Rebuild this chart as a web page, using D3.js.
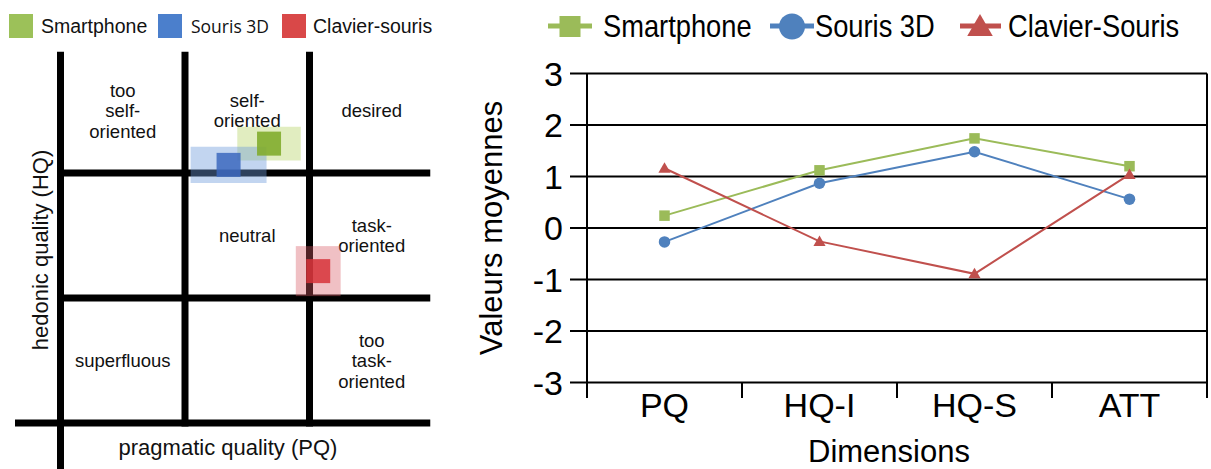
<!DOCTYPE html>
<html>
<head>
<meta charset="utf-8">
<script src="https://cdn.jsdelivr.net/npm/d3@7"></script>
<style>
  html, body { margin: 0; padding: 0; background: #fff; }
  svg { display: block; font-family: "Liberation Sans", Arial, Helvetica, sans-serif; }
</style>
</head>
<body>
<svg id="chart" width="1211" height="469"></svg>
<script>
// ---------- Data: right line chart ----------
const categories = ["PQ", "HQ-I", "HQ-S", "ATT"];
const seriesNames = ["Smartphone", "Souris 3D", "Clavier-Souris"];
const smartphone = [0.24, 1.12, 1.74, 1.20];
const souris3D = [-0.27, 0.87, 1.48, 0.56];
const clavierSouris = [1.16, -0.26, -0.89, 1.04];
const yTicks = [-3, -2, -1, 0, 1, 2, 3];

// ---------- Data: left portfolio ----------
const portfolioNames = ["Smartphone", "Souris 3D", "Clavier-souris"];
const portfolioPQ = [0.35, -0.30, 1.14];
const portfolioHQ = [1.47, 1.13, -0.57];
const confPQ = [0.51, 0.61, 0.36];
const confHQ = [0.27, 0.29, 0.40];
const gridPQ = [-3, -1, 1];
const gridHQ = [-3, -1, 1];
const cellLabels = [
  { pq: -2, hq: 2, lines: ["too", "self-", "oriented"] },
  { pq: 0, hq: 2, lines: ["self-", "oriented"] },
  { pq: 2, hq: 2, lines: ["desired"] },
  { pq: 0, hq: 0, lines: ["neutral"] },
  { pq: 2, hq: 0, lines: ["task-", "oriented"] },
  { pq: -2, hq: -2, lines: ["superfluous"] },
  { pq: 2, hq: -2, lines: ["too", "task-", "oriented"] }
];

const svg = d3.select("#chart");

// ================= LEFT: portfolio =================
const L = svg.append("g");
const px = d3.scaleLinear().domain([-3, 3]).range([60.5, 434]);
const py = d3.scaleLinear().domain([-3, 3]).range([423, 48]);
const lw = 7;

// grid lines
gridPQ.forEach((v, i) => {
  L.append("line")
    .attr("x1", px(v)).attr("x2", px(v))
    .attr("y1", py(2.94)).attr("y2", i === 0 ? 469 : py(-3) + lw / 2)
    .attr("stroke", "#000").attr("stroke-width", lw);
});
gridHQ.forEach((v, i) => {
  L.append("line")
    .attr("x1", i === 0 ? 15 : px(-3) - lw / 2).attr("x2", px(2.94))
    .attr("y1", py(v)).attr("y2", py(v))
    .attr("stroke", "#000").attr("stroke-width", lw);
});

// cell labels
cellLabels.forEach(c => {
  const n = c.lines.length, lh = 20.5;
  const t = L.append("text")
    .attr("x", px(c.pq)).attr("text-anchor", "middle")
    .attr("font-size", 18.5).attr("fill", "#111");
  c.lines.forEach((s, k) => {
    t.append("tspan")
      .attr("x", px(c.pq))
      .attr("y", py(c.hq) + (k - (n - 1) / 2) * lh + 6.5)
      .text(s);
  });
});

// axis titles
L.append("text").attr("x", 228).attr("y", 455).attr("text-anchor", "middle")
  .attr("font-size", 22).attr("fill", "#111").text("pragmatic quality (PQ)");
L.append("text").attr("transform", "translate(48,250) rotate(-90)")
  .attr("text-anchor", "middle").attr("font-size", 22).attr("fill", "#111")
  .text("hedonic quality (HQ)");

// confidence rectangles and mean squares
const outerCols = ["rgba(176,208,90,0.38)", "rgba(110,155,220,0.42)", "rgba(215,90,100,0.38)"];
const innerCols = ["rgba(130,172,45,0.9)", "rgba(60,105,190,0.85)", "rgba(215,50,58,0.85)"];
portfolioNames.forEach((name, i) => {
  L.append("rect")
    .attr("x", px(portfolioPQ[i] - confPQ[i]))
    .attr("y", py(portfolioHQ[i] + confHQ[i]))
    .attr("width", px(portfolioPQ[i] + confPQ[i]) - px(portfolioPQ[i] - confPQ[i]))
    .attr("height", py(portfolioHQ[i] - confHQ[i]) - py(portfolioHQ[i] + confHQ[i]))
    .attr("fill", outerCols[i]);
});
portfolioNames.forEach((name, i) => {
  L.append("rect")
    .attr("x", px(portfolioPQ[i]) - 12).attr("y", py(portfolioHQ[i]) - 12)
    .attr("width", 24).attr("height", 24)
    .attr("fill", innerCols[i]);
});

// left legend
const legL = [
  { x: 9, tx: 41, col: "#9cc159", font: "Liberation Sans, Arial, sans-serif", fs: 19.5 },
  { x: 158, tx: 191, col: "#4b7fcc", font: "Open Sans, sans-serif", fs: 17.5 },
  { x: 282, tx: 313, col: "#d94848", font: "Liberation Sans, Arial, sans-serif", fs: 19.5 }
];
portfolioNames.forEach((name, i) => {
  L.append("rect").attr("x", legL[i].x).attr("y", 14).attr("width", 24).attr("height", 24)
    .attr("fill", legL[i].col);
  L.append("text").attr("x", legL[i].tx).attr("y", 32.5)
    .attr("font-family", legL[i].font).attr("font-size", legL[i].fs).attr("fill", "#111")
    .text(name);
});

// ================= RIGHT: line chart =================
const R = svg.append("g");
const x = d3.scaleBand().domain(categories).range([587, 1207]);
const y = d3.scaleLinear().domain([-3, 3]).range([382.5, 73.5]);
const colors = ["#9bbb59", "#4f81bd", "#c0504d"];
const values = [smartphone, souris3D, clavierSouris];

// gridlines + y ticks
yTicks.forEach(t => {
  R.append("line").attr("x1", 570).attr("x2", 1207)
    .attr("y1", y(t)).attr("y2", y(t)).attr("stroke", "#000").attr("stroke-width", 2);
  R.append("text").attr("x", 563).attr("y", y(t)).attr("dy", "0.36em")
    .attr("text-anchor", "end").attr("font-size", 34).attr("fill", "#000")
    .text(t);
});
// vertical axis and right border
R.append("line").attr("x1", 587).attr("x2", 587).attr("y1", y(3)).attr("y2", y(-3) + 15.5)
  .attr("stroke", "#000").attr("stroke-width", 2);
R.append("line").attr("x1", 1207).attr("x2", 1207).attr("y1", y(3)).attr("y2", y(-3) + 15.5)
  .attr("stroke", "#000").attr("stroke-width", 2);
// category ticks and labels
categories.forEach((c, i) => {
  if (i > 0) {
    R.append("line").attr("x1", x(c)).attr("x2", x(c)).attr("y1", y(-3)).attr("y2", y(-3) + 15.5)
      .attr("stroke", "#000").attr("stroke-width", 2);
  }
  R.append("text").attr("x", x(c) + x.bandwidth() / 2).attr("y", 417)
    .attr("text-anchor", "middle").attr("font-size", 34).attr("fill", "#000").text(c);
});
// axis titles
R.append("text").attr("x", 889).attr("y", 462).attr("text-anchor", "middle")
  .attr("font-size", 31).attr("fill", "#000").text("Dimensions");
R.append("text").attr("transform", `translate(502,${(y(3) + y(-3)) / 2}) rotate(-90)`)
  .attr("text-anchor", "middle").attr("font-size", 31).attr("fill", "#000").text("Valeurs moyennes");

// series lines
const line = d3.line().x((d, i) => x(categories[i]) + x.bandwidth() / 2).y(d => y(d));
values.forEach((vals, s) => {
  R.append("path").attr("d", line(vals)).attr("fill", "none")
    .attr("stroke", colors[s]).attr("stroke-width", 2);
});
function marker(g, s, cx, cy, size) {
  if (s === 0) {
    g.append("rect").attr("x", cx - size / 2).attr("y", cy - size / 2)
      .attr("width", size).attr("height", size).attr("fill", colors[s]);
  } else if (s === 1) {
    g.append("circle").attr("cx", cx).attr("cy", cy).attr("r", size / 2 + 0.5).attr("fill", colors[s]);
  } else {
    const h = size * 0.95;
    g.append("path")
      .attr("d", `M${cx},${cy - h * 0.6} L${cx + size * 0.58},${cy + h * 0.45} L${cx - size * 0.58},${cy + h * 0.45} Z`)
      .attr("fill", colors[s]);
  }
}
values.forEach((vals, s) => {
  vals.forEach((v, i) => marker(R, s, x(categories[i]) + x.bandwidth() / 2, y(v), 10.5));
});

// right legend
const legR = [
  { l1: 548, l2: 592, mx: 570, tx: 603, size: 21 },
  { l1: 770, l2: 814, mx: 792, tx: 815, size: 25 },
  { l1: 960, l2: 1001, mx: 980, tx: 1008, size: 22 }
];
seriesNames.forEach((name, s) => {
  const o = legR[s];
  R.append("line").attr("x1", o.l1).attr("x2", o.l2).attr("y1", 26).attr("y2", 26)
    .attr("stroke", colors[s]).attr("stroke-width", 5);
  marker(R, s, o.mx, 26.5, o.size);
  R.append("text").attr("transform", `translate(${o.tx},37) scale(0.88,1)`)
    .attr("font-size", 31).attr("fill", "#000").text(name);
});
</script>
</body>
</html>
